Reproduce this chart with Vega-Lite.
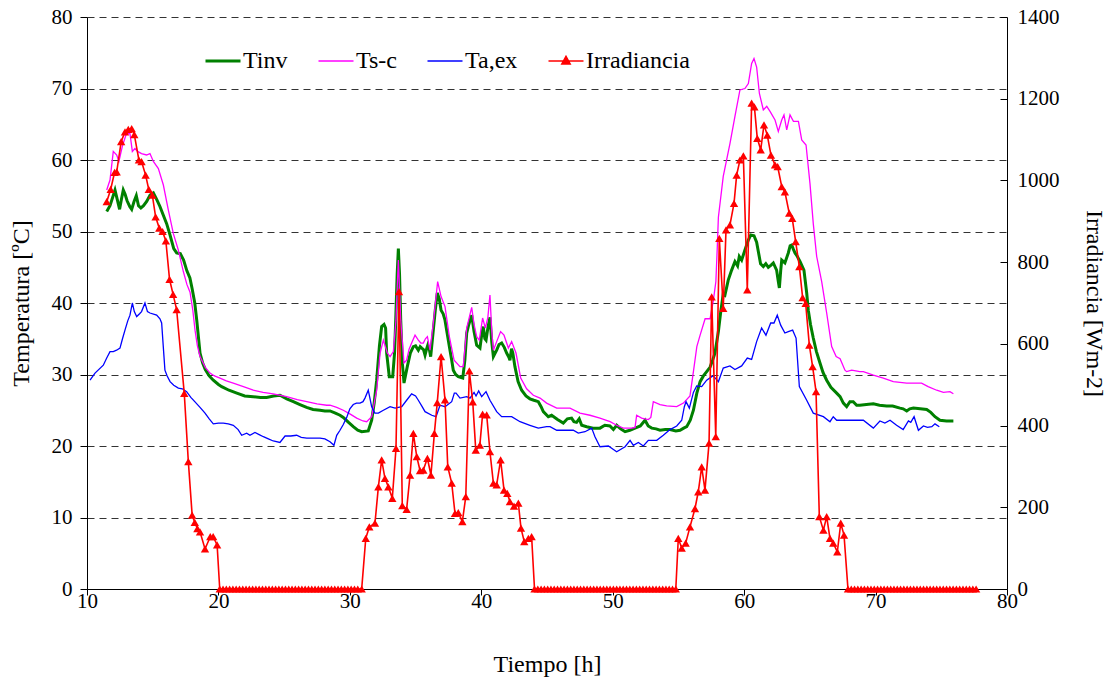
{
  "$schema": "https://vega.github.io/schema/vega-lite/v6.json",
  "width": 920,
  "height": 572,
  "autosize": {"type": "none"},
  "padding": {"left": 87, "top": 17, "right": 105, "bottom": 93},
  "background": "white",
  "config": {
    "font": "Liberation Serif",
    "view": {"stroke": null},
    "axis": {
      "labelFont": "Liberation Serif", "titleFont": "Liberation Serif",
      "labelColor": "black", "titleColor": "black", "domainColor": "black", "tickColor": "black",
      "titleFontWeight": "normal", "labelFontSize": 21, "titleFontSize": 24, "domainWidth": 1, "tickWidth": 1
    },
    "legend": {"labelFont": "Liberation Serif", "labelFontSize": 24, "labelColor": "black"},
    "text": {"font": "Liberation Serif"}
  },
  "datasets": {
    "tinv": [
      {"t":11.5,"v":52.8},{"t":11.75,"v":53.6},{"t":12.13,"v":55.8},{"t":12.3,"v":54.5},{"t":12.48,"v":53.1},{"t":12.62,"v":54.5},{"t":12.76,"v":55.8},{"t":12.9,"v":55.2},{"t":13.05,"v":54.3},{"t":13.25,"v":53.5},{"t":13.4,"v":53.1},{"t":13.58,"v":54.2},{"t":13.75,"v":55.0},{"t":13.92,"v":53.6},{"t":14.1,"v":53.3},{"t":14.3,"v":53.6},{"t":14.54,"v":54.2},{"t":14.8,"v":55.1},{"t":15.05,"v":55.4},{"t":15.3,"v":54.5},{"t":15.55,"v":53.5},{"t":15.8,"v":52.3},{"t":16.06,"v":51.1},{"t":16.32,"v":49.5},{"t":16.6,"v":47.6},{"t":16.82,"v":47.0},{"t":17.1,"v":46.9},{"t":17.35,"v":46.0},{"t":17.6,"v":44.5},{"t":17.83,"v":43.5},{"t":18.0,"v":42.0},{"t":18.2,"v":40.0},{"t":18.35,"v":37.6},{"t":18.6,"v":33.0},{"t":18.8,"v":31.6},{"t":19.0,"v":30.7},{"t":19.3,"v":29.8},{"t":19.61,"v":29.2},{"t":20.0,"v":28.6},{"t":20.25,"v":28.3},{"t":20.8,"v":27.8},{"t":21.4,"v":27.4},{"t":22.0,"v":27.0},{"t":22.65,"v":26.9},{"t":23.2,"v":26.8},{"t":23.67,"v":26.8},{"t":24.2,"v":27.0},{"t":24.68,"v":27.1},{"t":25.2,"v":26.6},{"t":25.7,"v":26.2},{"t":26.2,"v":25.8},{"t":26.71,"v":25.4},{"t":27.2,"v":25.1},{"t":27.73,"v":25.0},{"t":28.1,"v":24.9},{"t":28.49,"v":24.9},{"t":28.9,"v":24.6},{"t":29.25,"v":24.3},{"t":29.5,"v":24.0},{"t":29.9,"v":23.3},{"t":30.26,"v":22.7},{"t":30.6,"v":22.2},{"t":30.9,"v":22.0},{"t":31.4,"v":22.1},{"t":31.66,"v":23.6},{"t":31.85,"v":26.0},{"t":32.04,"v":29.2},{"t":32.25,"v":34.0},{"t":32.42,"v":36.7},{"t":32.6,"v":37.0},{"t":32.72,"v":36.5},{"t":32.8,"v":33.0},{"t":33.0,"v":29.7},{"t":33.26,"v":29.7},{"t":33.4,"v":33.0},{"t":33.49,"v":37.6},{"t":33.6,"v":44.0},{"t":33.69,"v":47.6},{"t":33.78,"v":44.0},{"t":33.87,"v":37.6},{"t":34.0,"v":31.5},{"t":34.12,"v":28.8},{"t":34.37,"v":31.1},{"t":34.6,"v":33.0},{"t":34.83,"v":33.9},{"t":35.0,"v":34.0},{"t":35.21,"v":33.4},{"t":35.35,"v":33.9},{"t":35.47,"v":33.7},{"t":35.6,"v":33.5},{"t":35.72,"v":32.7},{"t":35.83,"v":33.5},{"t":35.93,"v":34.1},{"t":36.05,"v":33.5},{"t":36.15,"v":32.5},{"t":36.35,"v":36.2},{"t":36.5,"v":39.0},{"t":36.65,"v":41.4},{"t":36.8,"v":40.6},{"t":36.94,"v":39.0},{"t":37.1,"v":38.5},{"t":37.24,"v":37.6},{"t":37.4,"v":35.8},{"t":37.57,"v":33.9},{"t":37.75,"v":32.0},{"t":37.87,"v":30.6},{"t":38.05,"v":30.0},{"t":38.25,"v":29.7},{"t":38.59,"v":29.5},{"t":38.75,"v":32.0},{"t":38.89,"v":35.8},{"t":39.05,"v":37.0},{"t":39.27,"v":38.3},{"t":39.45,"v":36.0},{"t":39.65,"v":34.1},{"t":39.9,"v":33.7},{"t":40.05,"v":35.8},{"t":40.15,"v":36.7},{"t":40.27,"v":35.0},{"t":40.36,"v":34.8},{"t":40.5,"v":36.5},{"t":40.66,"v":38.0},{"t":40.8,"v":34.5},{"t":40.92,"v":32.5},{"t":41.17,"v":33.4},{"t":41.35,"v":34.2},{"t":41.55,"v":34.4},{"t":41.75,"v":33.8},{"t":41.93,"v":33.0},{"t":42.1,"v":32.4},{"t":42.18,"v":32.0},{"t":42.3,"v":33.6},{"t":42.4,"v":33.0},{"t":42.56,"v":31.1},{"t":42.8,"v":29.0},{"t":43.07,"v":27.8},{"t":43.4,"v":27.0},{"t":43.7,"v":26.6},{"t":44.0,"v":26.4},{"t":44.34,"v":26.2},{"t":44.55,"v":25.5},{"t":44.72,"v":24.8},{"t":45.1,"v":24.1},{"t":45.35,"v":24.3},{"t":45.8,"v":23.7},{"t":46.24,"v":23.2},{"t":46.55,"v":23.8},{"t":46.87,"v":23.9},{"t":47.05,"v":23.4},{"t":47.25,"v":23.3},{"t":47.45,"v":23.8},{"t":47.64,"v":22.9},{"t":48.02,"v":22.7},{"t":48.5,"v":22.5},{"t":49.03,"v":22.5},{"t":49.4,"v":22.9},{"t":49.79,"v":22.8},{"t":50.05,"v":22.3},{"t":50.3,"v":22.9},{"t":50.6,"v":22.4},{"t":50.94,"v":22.0},{"t":51.3,"v":22.2},{"t":51.7,"v":22.5},{"t":52.1,"v":22.8},{"t":52.46,"v":23.6},{"t":52.7,"v":22.8},{"t":52.97,"v":22.5},{"t":53.3,"v":22.4},{"t":53.6,"v":22.2},{"t":54.0,"v":22.3},{"t":54.36,"v":22.3},{"t":54.8,"v":22.1},{"t":55.12,"v":22.2},{"t":55.4,"v":22.5},{"t":55.63,"v":22.7},{"t":55.9,"v":23.6},{"t":56.14,"v":25.0},{"t":56.4,"v":27.4},{"t":56.65,"v":29.0},{"t":56.9,"v":29.8},{"t":57.15,"v":30.4},{"t":57.4,"v":31.0},{"t":57.6,"v":32.0},{"t":57.78,"v":33.0},{"t":58.04,"v":36.0},{"t":58.2,"v":38.5},{"t":58.41,"v":41.3},{"t":58.54,"v":41.1},{"t":58.79,"v":43.2},{"t":59.05,"v":44.6},{"t":59.3,"v":45.8},{"t":59.5,"v":45.2},{"t":59.63,"v":46.5},{"t":59.81,"v":46.0},{"t":60.06,"v":47.4},{"t":60.32,"v":48.8},{"t":60.5,"v":49.5},{"t":60.75,"v":49.4},{"t":60.95,"v":48.5},{"t":61.1,"v":47.0},{"t":61.25,"v":45.5},{"t":61.46,"v":45.1},{"t":61.65,"v":45.5},{"t":61.84,"v":45.0},{"t":62.05,"v":45.3},{"t":62.22,"v":45.6},{"t":62.47,"v":44.6},{"t":62.6,"v":43.0},{"t":62.68,"v":42.1},{"t":62.78,"v":44.5},{"t":62.86,"v":46.0},{"t":63.1,"v":45.6},{"t":63.36,"v":47.0},{"t":63.5,"v":48.0},{"t":63.62,"v":48.1},{"t":63.75,"v":47.5},{"t":63.87,"v":47.0},{"t":64.05,"v":46.5},{"t":64.25,"v":45.8},{"t":64.55,"v":44.6},{"t":64.76,"v":41.4},{"t":64.88,"v":39.0},{"t":65.05,"v":37.0},{"t":65.26,"v":35.1},{"t":65.5,"v":33.2},{"t":65.77,"v":31.6},{"t":66.0,"v":30.3},{"t":66.28,"v":29.2},{"t":66.6,"v":28.2},{"t":67.04,"v":27.4},{"t":67.3,"v":26.9},{"t":67.55,"v":26.0},{"t":67.8,"v":25.5},{"t":68.05,"v":26.2},{"t":68.3,"v":26.2},{"t":68.56,"v":25.7},{"t":68.8,"v":25.7},{"t":69.3,"v":25.8},{"t":69.83,"v":25.9},{"t":70.3,"v":25.7},{"t":70.84,"v":25.6},{"t":71.3,"v":25.6},{"t":71.86,"v":25.3},{"t":72.1,"v":25.2},{"t":72.37,"v":24.9},{"t":72.6,"v":25.2},{"t":72.88,"v":25.3},{"t":73.4,"v":25.2},{"t":73.89,"v":25.1},{"t":74.2,"v":24.7},{"t":74.52,"v":24.1},{"t":74.9,"v":23.6},{"t":75.4,"v":23.5},{"t":75.92,"v":23.5}
    ],
    "tsc": [
      {"t":11.5,"v":55.8},{"t":11.75,"v":57.2},{"t":12.0,"v":61.2},{"t":12.26,"v":60.7},{"t":12.43,"v":59.8},{"t":12.7,"v":62.0},{"t":13.0,"v":63.7},{"t":13.27,"v":63.7},{"t":13.45,"v":61.2},{"t":13.65,"v":61.6},{"t":13.85,"v":61.2},{"t":14.15,"v":60.9},{"t":14.53,"v":60.7},{"t":14.79,"v":60.9},{"t":15.05,"v":59.8},{"t":15.43,"v":58.8},{"t":15.81,"v":56.5},{"t":16.19,"v":53.0},{"t":16.57,"v":49.7},{"t":16.95,"v":47.4},{"t":17.33,"v":44.4},{"t":17.6,"v":42.6},{"t":17.84,"v":41.5},{"t":18.05,"v":39.0},{"t":18.22,"v":36.2},{"t":18.4,"v":34.0},{"t":18.6,"v":32.5},{"t":19.0,"v":31.0},{"t":19.36,"v":30.2},{"t":19.7,"v":29.8},{"t":20.12,"v":29.5},{"t":20.6,"v":29.1},{"t":21.13,"v":28.8},{"t":21.9,"v":28.3},{"t":22.65,"v":27.8},{"t":23.4,"v":27.5},{"t":24.17,"v":27.3},{"t":25.19,"v":26.9},{"t":26.0,"v":26.5},{"t":26.72,"v":26.2},{"t":27.5,"v":25.9},{"t":28.24,"v":25.7},{"t":28.49,"v":25.7},{"t":29.0,"v":25.4},{"t":29.5,"v":25.0},{"t":30.0,"v":24.5},{"t":30.52,"v":23.9},{"t":31.0,"v":23.5},{"t":31.28,"v":23.4},{"t":31.66,"v":24.1},{"t":32.04,"v":27.8},{"t":32.3,"v":33.0},{"t":32.55,"v":34.8},{"t":32.85,"v":33.0},{"t":33.06,"v":32.5},{"t":33.31,"v":33.2},{"t":33.51,"v":37.6},{"t":33.6,"v":42.0},{"t":33.69,"v":46.0},{"t":33.78,"v":42.0},{"t":33.87,"v":37.6},{"t":34.12,"v":31.6},{"t":34.32,"v":32.0},{"t":34.5,"v":33.5},{"t":34.7,"v":34.4},{"t":34.96,"v":35.5},{"t":35.21,"v":34.8},{"t":35.4,"v":34.4},{"t":35.59,"v":34.4},{"t":35.75,"v":35.0},{"t":35.9,"v":35.3},{"t":36.1,"v":33.4},{"t":36.35,"v":37.2},{"t":36.68,"v":43.0},{"t":36.94,"v":40.9},{"t":37.24,"v":39.5},{"t":37.57,"v":35.3},{"t":37.93,"v":32.0},{"t":38.38,"v":31.1},{"t":38.63,"v":31.1},{"t":38.89,"v":36.5},{"t":39.27,"v":39.4},{"t":39.45,"v":37.0},{"t":39.65,"v":35.3},{"t":39.85,"v":34.8},{"t":40.1,"v":37.9},{"t":40.31,"v":36.5},{"t":40.5,"v":38.0},{"t":40.66,"v":41.1},{"t":40.8,"v":36.0},{"t":40.92,"v":33.4},{"t":41.17,"v":34.6},{"t":41.47,"v":36.0},{"t":41.73,"v":35.5},{"t":42.06,"v":33.7},{"t":42.31,"v":34.6},{"t":42.64,"v":33.0},{"t":43.0,"v":29.5},{"t":43.45,"v":28.0},{"t":43.96,"v":27.1},{"t":44.47,"v":26.7},{"t":44.97,"v":26.0},{"t":45.74,"v":25.3},{"t":46.75,"v":25.3},{"t":47.51,"v":24.6},{"t":48.27,"v":24.3},{"t":49.03,"v":23.9},{"t":49.8,"v":23.4},{"t":50.3,"v":22.9},{"t":50.81,"v":22.5},{"t":51.44,"v":22.5},{"t":51.7,"v":22.6},{"t":51.82,"v":24.3},{"t":52.2,"v":23.9},{"t":52.71,"v":23.7},{"t":52.9,"v":24.0},{"t":53.09,"v":26.2},{"t":53.6,"v":25.8},{"t":54.1,"v":25.6},{"t":54.87,"v":25.5},{"t":55.38,"v":26.0},{"t":55.88,"v":27.0},{"t":56.14,"v":30.4},{"t":56.4,"v":33.9},{"t":56.65,"v":35.5},{"t":57.03,"v":37.8},{"t":57.41,"v":37.8},{"t":57.66,"v":40.4},{"t":57.85,"v":43.0},{"t":57.95,"v":47.5},{"t":58.04,"v":52.0},{"t":58.41,"v":57.7},{"t":58.92,"v":62.3},{"t":59.3,"v":66.1},{"t":59.68,"v":69.8},{"t":60.06,"v":70.0},{"t":60.32,"v":70.7},{"t":60.57,"v":73.5},{"t":60.75,"v":74.2},{"t":60.95,"v":73.0},{"t":61.16,"v":69.3},{"t":61.46,"v":67.0},{"t":61.72,"v":67.5},{"t":61.97,"v":66.8},{"t":62.35,"v":65.6},{"t":62.6,"v":64.0},{"t":62.86,"v":65.6},{"t":63.03,"v":66.3},{"t":63.24,"v":64.2},{"t":63.49,"v":66.3},{"t":63.75,"v":65.4},{"t":64.13,"v":65.4},{"t":64.38,"v":62.8},{"t":64.71,"v":62.1},{"t":65.01,"v":56.7},{"t":65.26,"v":51.1},{"t":65.52,"v":46.5},{"t":65.9,"v":43.0},{"t":66.28,"v":38.6},{"t":66.66,"v":33.9},{"t":67.0,"v":32.5},{"t":67.3,"v":32.2},{"t":67.67,"v":30.6},{"t":67.8,"v":30.4},{"t":68.18,"v":30.6},{"t":68.5,"v":30.5},{"t":68.8,"v":30.4},{"t":69.07,"v":30.4},{"t":69.83,"v":29.9},{"t":70.59,"v":29.5},{"t":71.35,"v":29.0},{"t":72.37,"v":28.8},{"t":73.5,"v":28.8},{"t":74.0,"v":28.3},{"t":74.65,"v":27.8},{"t":75.16,"v":27.5},{"t":75.66,"v":27.6},{"t":75.92,"v":27.3}
    ],
    "taex": [
      {"t":10.23,"v":29.2},{"t":10.61,"v":30.2},{"t":11.24,"v":31.3},{"t":11.5,"v":32.3},{"t":11.75,"v":33.2},{"t":12.0,"v":33.2},{"t":12.25,"v":33.4},{"t":12.51,"v":33.7},{"t":12.7,"v":35.0},{"t":12.89,"v":36.2},{"t":13.1,"v":37.5},{"t":13.27,"v":38.3},{"t":13.45,"v":40.0},{"t":13.6,"v":38.8},{"t":13.78,"v":38.1},{"t":14.0,"v":38.5},{"t":14.15,"v":38.8},{"t":14.41,"v":40.0},{"t":14.6,"v":38.8},{"t":14.79,"v":38.6},{"t":15.3,"v":38.3},{"t":15.55,"v":37.8},{"t":15.68,"v":37.2},{"t":15.8,"v":34.0},{"t":15.93,"v":30.6},{"t":16.1,"v":29.8},{"t":16.32,"v":29.0},{"t":16.6,"v":28.5},{"t":16.95,"v":28.1},{"t":17.25,"v":28.0},{"t":17.58,"v":27.6},{"t":17.9,"v":26.8},{"t":18.2,"v":26.2},{"t":18.6,"v":25.4},{"t":18.98,"v":24.6},{"t":19.3,"v":23.8},{"t":19.61,"v":23.1},{"t":20.0,"v":23.2},{"t":20.37,"v":23.2},{"t":20.75,"v":23.1},{"t":21.13,"v":22.9},{"t":21.5,"v":22.3},{"t":21.77,"v":21.5},{"t":22.15,"v":21.8},{"t":22.4,"v":21.5},{"t":22.78,"v":21.9},{"t":23.1,"v":21.6},{"t":23.42,"v":21.3},{"t":23.8,"v":21.0},{"t":24.17,"v":20.7},{"t":24.68,"v":20.5},{"t":25.07,"v":21.4},{"t":25.5,"v":21.4},{"t":25.95,"v":21.5},{"t":26.3,"v":21.2},{"t":26.72,"v":21.1},{"t":27.2,"v":21.1},{"t":27.73,"v":21.1},{"t":28.1,"v":21.0},{"t":28.49,"v":20.6},{"t":28.79,"v":20.1},{"t":29.0,"v":21.5},{"t":29.25,"v":22.2},{"t":29.5,"v":23.0},{"t":29.76,"v":24.0},{"t":30.0,"v":25.2},{"t":30.26,"v":25.8},{"t":30.5,"v":26.0},{"t":30.77,"v":26.0},{"t":31.0,"v":26.2},{"t":31.15,"v":26.7},{"t":31.4,"v":27.8},{"t":31.66,"v":25.5},{"t":31.9,"v":24.6},{"t":32.17,"v":24.6},{"t":32.55,"v":25.0},{"t":33.06,"v":25.5},{"t":33.44,"v":25.3},{"t":33.95,"v":25.5},{"t":34.32,"v":26.4},{"t":34.7,"v":27.3},{"t":35.0,"v":27.0},{"t":35.21,"v":26.4},{"t":35.5,"v":25.5},{"t":35.72,"v":24.8},{"t":36.23,"v":24.3},{"t":36.56,"v":24.1},{"t":36.86,"v":25.7},{"t":37.24,"v":25.5},{"t":37.75,"v":26.2},{"t":37.95,"v":27.4},{"t":38.08,"v":27.4},{"t":38.38,"v":26.7},{"t":38.89,"v":26.9},{"t":39.14,"v":26.7},{"t":39.45,"v":27.5},{"t":39.6,"v":27.0},{"t":39.8,"v":27.7},{"t":40.03,"v":26.9},{"t":40.36,"v":27.6},{"t":40.66,"v":26.4},{"t":41.17,"v":24.8},{"t":41.55,"v":24.1},{"t":42.31,"v":24.1},{"t":42.95,"v":23.4},{"t":43.7,"v":22.9},{"t":44.34,"v":22.5},{"t":44.97,"v":22.7},{"t":45.23,"v":22.7},{"t":45.74,"v":22.2},{"t":47.0,"v":22.2},{"t":47.38,"v":21.8},{"t":47.89,"v":22.0},{"t":48.4,"v":22.5},{"t":48.65,"v":21.3},{"t":49.03,"v":19.9},{"t":49.67,"v":20.0},{"t":50.3,"v":19.2},{"t":50.94,"v":19.9},{"t":51.32,"v":20.8},{"t":51.57,"v":20.1},{"t":51.95,"v":20.5},{"t":52.33,"v":20.0},{"t":52.71,"v":20.8},{"t":53.35,"v":20.8},{"t":53.85,"v":21.5},{"t":54.36,"v":22.3},{"t":54.87,"v":22.8},{"t":55.25,"v":23.6},{"t":55.45,"v":25.5},{"t":55.58,"v":26.2},{"t":55.83,"v":25.3},{"t":56.14,"v":27.5},{"t":56.39,"v":28.4},{"t":56.77,"v":28.3},{"t":57.15,"v":29.2},{"t":57.53,"v":29.7},{"t":57.66,"v":29.8},{"t":58.04,"v":29.0},{"t":58.41,"v":30.9},{"t":58.92,"v":31.2},{"t":59.3,"v":30.7},{"t":59.81,"v":31.2},{"t":60.24,"v":32.3},{"t":60.57,"v":32.1},{"t":60.95,"v":34.6},{"t":61.33,"v":36.5},{"t":61.66,"v":35.5},{"t":62.02,"v":37.2},{"t":62.27,"v":37.2},{"t":62.52,"v":38.3},{"t":62.78,"v":36.9},{"t":63.1,"v":35.8},{"t":63.36,"v":36.0},{"t":63.69,"v":36.2},{"t":63.95,"v":35.1},{"t":64.2,"v":28.3},{"t":64.76,"v":26.4},{"t":65.26,"v":24.6},{"t":66.03,"v":24.1},{"t":66.53,"v":23.4},{"t":66.78,"v":24.1},{"t":67.04,"v":23.6},{"t":67.8,"v":23.6},{"t":68.3,"v":23.6},{"t":69.07,"v":23.6},{"t":69.83,"v":22.5},{"t":70.33,"v":23.5},{"t":70.71,"v":23.2},{"t":71.1,"v":23.6},{"t":71.6,"v":22.9},{"t":72.1,"v":22.3},{"t":72.5,"v":23.5},{"t":72.68,"v":23.3},{"t":72.93,"v":24.1},{"t":73.26,"v":22.2},{"t":73.64,"v":22.8},{"t":73.95,"v":22.6},{"t":74.28,"v":22.7},{"t":74.52,"v":23.1},{"t":74.85,"v":22.7}
    ],
    "irr": [
      {"t":11.5,"v":948},{"t":11.8,"v":978},{"t":12.1,"v":1020},{"t":12.26,"v":1021},{"t":12.6,"v":1095},{"t":12.89,"v":1119},{"t":13.14,"v":1125},{"t":13.4,"v":1127},{"t":13.6,"v":1112},{"t":13.95,"v":1050},{"t":14.15,"v":1046},{"t":14.46,"v":1013},{"t":14.7,"v":978},{"t":14.97,"v":964},{"t":15.22,"v":911},{"t":15.5,"v":883},{"t":15.75,"v":875},{"t":16.0,"v":852},{"t":16.28,"v":758},{"t":16.55,"v":721},{"t":16.82,"v":684},{"t":17.4,"v":479},{"t":17.71,"v":312},{"t":18.0,"v":181},{"t":18.2,"v":163},{"t":18.4,"v":148},{"t":18.6,"v":140},{"t":18.98,"v":98},{"t":19.38,"v":128},{"t":19.6,"v":128},{"t":19.9,"v":108},
      {"t":20.1,"v":0},{"t":20.35,"v":0},{"t":20.6,"v":0},{"t":20.85,"v":0},{"t":21.1,"v":0},{"t":21.35,"v":0},{"t":21.6,"v":0},{"t":21.85,"v":0},{"t":22.1,"v":0},{"t":22.35,"v":0},{"t":22.6,"v":0},{"t":22.85,"v":0},{"t":23.1,"v":0},{"t":23.35,"v":0},{"t":23.6,"v":0},{"t":23.85,"v":0},{"t":24.1,"v":0},{"t":24.35,"v":0},{"t":24.6,"v":0},{"t":24.85,"v":0},{"t":25.1,"v":0},{"t":25.35,"v":0},{"t":25.6,"v":0},{"t":25.85,"v":0},{"t":26.1,"v":0},{"t":26.35,"v":0},{"t":26.6,"v":0},{"t":26.85,"v":0},{"t":27.1,"v":0},{"t":27.35,"v":0},{"t":27.6,"v":0},{"t":27.85,"v":0},{"t":28.1,"v":0},{"t":28.35,"v":0},{"t":28.6,"v":0},{"t":28.85,"v":0},{"t":29.1,"v":0},{"t":29.35,"v":0},{"t":29.6,"v":0},{"t":29.85,"v":0},{"t":30.1,"v":0},{"t":30.35,"v":0},{"t":30.6,"v":0},{"t":30.9,"v":0},
      {"t":31.21,"v":124},{"t":31.48,"v":152},{"t":31.91,"v":161},{"t":32.17,"v":250},{"t":32.42,"v":316},{"t":32.67,"v":271},{"t":32.93,"v":250},{"t":33.23,"v":222},{"t":33.51,"v":344},{"t":33.74,"v":728},{"t":33.99,"v":204},{"t":34.32,"v":195},{"t":34.58,"v":279},{"t":34.83,"v":381},{"t":35.09,"v":324},{"t":35.34,"v":290},{"t":35.59,"v":291},{"t":35.9,"v":320},{"t":36.17,"v":279},{"t":36.43,"v":381},{"t":36.65,"v":456},{"t":36.94,"v":569},{"t":37.24,"v":463},{"t":37.45,"v":299},{"t":37.75,"v":259},{"t":38.0,"v":185},{"t":38.25,"v":187},{"t":38.56,"v":165},{"t":38.82,"v":226},{"t":39.09,"v":534},{"t":39.35,"v":458},{"t":39.58,"v":340},{"t":39.89,"v":352},{"t":40.1,"v":428},{"t":40.41,"v":426},{"t":40.66,"v":336},{"t":40.92,"v":259},{"t":41.17,"v":255},{"t":41.47,"v":316},{"t":41.73,"v":242},{"t":41.98,"v":234},{"t":42.18,"v":214},{"t":42.49,"v":203},{"t":42.82,"v":210},{"t":43.02,"v":149},{"t":43.27,"v":116},{"t":43.58,"v":124},{"t":43.83,"v":128},
      {"t":44.05,"v":0},{"t":44.3,"v":0},{"t":44.55,"v":0},{"t":44.8,"v":0},{"t":45.05,"v":0},{"t":45.3,"v":0},{"t":45.55,"v":0},{"t":45.8,"v":0},{"t":46.05,"v":0},{"t":46.3,"v":0},{"t":46.55,"v":0},{"t":46.8,"v":0},{"t":47.05,"v":0},{"t":47.3,"v":0},{"t":47.55,"v":0},{"t":47.8,"v":0},{"t":48.05,"v":0},{"t":48.3,"v":0},{"t":48.55,"v":0},{"t":48.8,"v":0},{"t":49.05,"v":0},{"t":49.3,"v":0},{"t":49.55,"v":0},{"t":49.8,"v":0},{"t":50.05,"v":0},{"t":50.3,"v":0},{"t":50.55,"v":0},{"t":50.8,"v":0},{"t":51.05,"v":0},{"t":51.3,"v":0},{"t":51.55,"v":0},{"t":51.8,"v":0},{"t":52.05,"v":0},{"t":52.3,"v":0},{"t":52.55,"v":0},{"t":52.8,"v":0},{"t":53.05,"v":0},{"t":53.3,"v":0},{"t":53.55,"v":0},{"t":53.8,"v":0},{"t":54.05,"v":0},{"t":54.3,"v":0},{"t":54.55,"v":0},{"t":54.8,"v":0},
      {"t":54.99,"v":124},{"t":55.25,"v":100},{"t":55.55,"v":112},{"t":55.88,"v":152},{"t":56.26,"v":197},{"t":56.51,"v":238},{"t":56.77,"v":299},{"t":57.02,"v":242},{"t":57.33,"v":357},{"t":57.53,"v":715},{"t":57.84,"v":373},{"t":58.11,"v":858},{"t":58.41,"v":687},{"t":58.62,"v":879},{"t":58.92,"v":891},{"t":59.23,"v":944},{"t":59.43,"v":1013},{"t":59.68,"v":1050},{"t":59.94,"v":1060},{"t":60.24,"v":732},{"t":60.57,"v":1189},{"t":60.78,"v":1180},{"t":61.0,"v":1103},{"t":61.26,"v":1075},{"t":61.51,"v":1136},{"t":61.76,"v":1111},{"t":62.04,"v":1062},{"t":62.35,"v":1038},{"t":62.55,"v":1034},{"t":62.86,"v":985},{"t":63.1,"v":972},{"t":63.43,"v":920},{"t":63.66,"v":907},{"t":63.92,"v":850},{"t":64.2,"v":789},{"t":64.45,"v":713},{"t":64.68,"v":699},{"t":64.96,"v":597},{"t":65.21,"v":544},{"t":65.47,"v":483},{"t":65.72,"v":177},{"t":66.03,"v":144},{"t":66.28,"v":177},{"t":66.53,"v":124},{"t":66.78,"v":112},{"t":67.09,"v":91},{"t":67.35,"v":161},{"t":67.6,"v":132},
      {"t":67.9,"v":0},{"t":68.15,"v":0},{"t":68.4,"v":0},{"t":68.65,"v":0},{"t":68.9,"v":0},{"t":69.15,"v":0},{"t":69.4,"v":0},{"t":69.65,"v":0},{"t":69.9,"v":0},{"t":70.15,"v":0},{"t":70.4,"v":0},{"t":70.65,"v":0},{"t":70.9,"v":0},{"t":71.15,"v":0},{"t":71.4,"v":0},{"t":71.65,"v":0},{"t":71.9,"v":0},{"t":72.15,"v":0},{"t":72.4,"v":0},{"t":72.65,"v":0},{"t":72.9,"v":0},{"t":73.15,"v":0},{"t":73.4,"v":0},{"t":73.65,"v":0},{"t":73.9,"v":0},{"t":74.15,"v":0},{"t":74.4,"v":0},{"t":74.65,"v":0},{"t":74.9,"v":0},{"t":75.15,"v":0},{"t":75.4,"v":0},{"t":75.65,"v":0},{"t":75.9,"v":0},{"t":76.15,"v":0},{"t":76.4,"v":0},{"t":76.65,"v":0},{"t":76.9,"v":0},{"t":77.15,"v":0},{"t":77.4,"v":0},{"t":77.65,"v":0}
    ]
  },
  "encoding": {
    "x": {
      "field": "t", "type": "quantitative",
      "scale": {"domain": [10, 80], "nice": false, "zero": false},
      "axis": {"title": "Tiempo [h]", "values": [10, 20, 30, 40, 50, 60, 70, 80], "grid": false, "tickSize": 6, "labelPadding": -5, "titlePadding": 41, "labelFlush": false,
        "labelFont": "Liberation Serif", "titleFont": "Liberation Serif", "labelFontSize": 21, "titleFontSize": 24, "titleFontWeight": "normal"}
    }
  },
  "layer": [
    {
      "encoding": {
        "y": {
          "field": "v", "type": "quantitative",
          "scale": {"domain": [0, 80], "nice": false, "zero": true},
          "axis": {"title": "Temperatura [ºC]", "values": [0, 10, 20, 30, 40, 50, 60, 70, 80], "grid": true, "gridDash": [7, 5], "gridColor": "#333333", "gridWidth": 1, "gridOpacity": 1, "tickSize": 7, "labelPadding": 8, "titlePadding": 18,
            "labelFont": "Liberation Serif", "titleFont": "Liberation Serif", "labelFontSize": 21, "titleFontSize": 24, "titleFontWeight": "normal"}
        }
      },
      "layer": [
        {
          "data": {"name": "tinv"},
          "mark": {"type": "line", "strokeWidth": 3, "interpolate": "linear"},
          "encoding": {
            "color": {"datum": "Tinv", "type": "nominal",
              "scale": {"domain": ["Tinv", "Ts-c", "Ta,ex", "Irradiancia"], "range": ["#008000", "#ff00ff", "#0000ff", "#ff0000"]},
              "legend": {"title": null, "orient": "none", "legendX": 124, "legendY": 32, "direction": "horizontal", "columns": 4, "padding": 0, "symbolSize": 1225, "symbolType": "stroke", "labelOffset": 8, "columnPadding": 27,
                "labelFont": "Liberation Serif", "labelFontSize": 24,
                "encode": {"symbols": {"update": {
                  "shape": {"signal": "datum.value === 'Irradiancia' ? 'M-1,0H1M0,-0.27L0.24,0.17L-0.24,0.17Z' : 'stroke'"},
                  "fill": {"signal": "datum.value === 'Irradiancia' ? '#ff0000' : 'transparent'"},
                  "strokeWidth": {"signal": "datum.value === 'Tinv' ? 3 : 1.5"}
                }}}}
            }
          }
        },
        {
          "data": {"name": "tsc"},
          "mark": {"type": "line", "strokeWidth": 1.3},
          "encoding": {"color": {"datum": "Ts-c", "type": "nominal"}}
        },
        {
          "data": {"name": "taex"},
          "mark": {"type": "line", "strokeWidth": 1.3},
          "encoding": {"color": {"datum": "Ta,ex", "type": "nominal"}}
        }
      ]
    },
    {
      "data": {"name": "irr"},
      "encoding": {
        "y": {
          "field": "v", "type": "quantitative",
          "scale": {"domain": [0, 1400], "nice": false},
          "axis": {"title": "Irradiancia [Wm-2]", "orient": "right", "format": "d", "values": [0, 200, 400, 600, 800, 1000, 1200, 1400], "grid": false, "tickSize": -7, "labelPadding": 17, "titlePadding": 22,
            "labelFont": "Liberation Serif", "titleFont": "Liberation Serif", "labelFontSize": 21, "titleFontSize": 24, "titleFontWeight": "normal"}
        }
      },
      "layer": [
        {
          "mark": {"type": "line", "strokeWidth": 1.6},
          "encoding": {"color": {"datum": "Irradiancia", "type": "nominal"}}
        },
        {
          "mark": {"type": "point", "shape": "triangle-up", "filled": true, "color": "#ff0000", "size": 70, "opacity": 1}
        }
      ]
    }
  ],
  "resolve": {"scale": {"y": "independent"}}
}
